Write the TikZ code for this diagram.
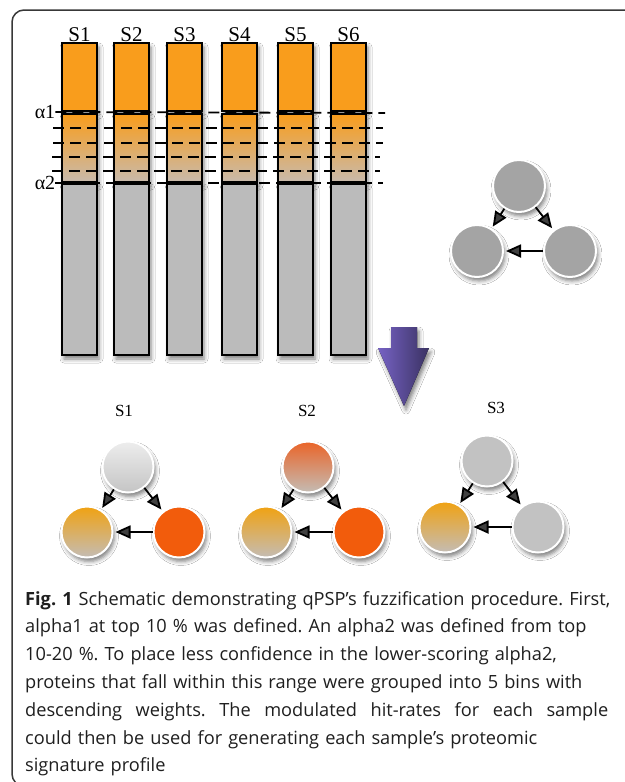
\documentclass[tikz,border=0pt]{standalone}
\usepackage{fontspec}
\newfontfamily\labface{Liberation Serif}
\newfontfamily\capface{Open Sans}
\usetikzlibrary{arrows.meta,shadows.blur}

\definecolor{barorange}{RGB}{249,157,28}
\definecolor{barfade}{RGB}{200,186,172}
\definecolor{bargrey}{RGB}{187,187,187}
\definecolor{netgrey}{RGB}{164,164,164}
\definecolor{lightgrey}{RGB}{194,194,194}
\definecolor{paleorange}{RGB}{240,162,18}
\definecolor{fadegrey}{RGB}{196,188,180}
\definecolor{deeporange}{RGB}{242,92,12}
\definecolor{redorange}{RGB}{234,100,40}
\definecolor{arrowlight}{RGB}{118,98,196}
\definecolor{arrowdark}{RGB}{58,50,98}

\tikzset{
	softshadow/.style={blur shadow={shadow xshift=2pt,shadow yshift=-4pt,shadow blur radius=4pt,shadow opacity=50}},
	bar/.style={draw=black,line width=1.5pt,softshadow},
	cut/.style={line width=1.8pt,dash pattern=on 11pt off 6pt},
	bubble/.style={circle,draw=white,line width=2pt,minimum size=51pt,inner sep=0pt,softshadow},
	arr/.style={line width=1.8pt,-{Triangle[length=15pt,width=13pt]},shorten >=2pt}
}

\begin{document}
\begin{tikzpicture}[x=1pt,y=-1pt]
			%%%%% START %%%%%
			\useasboundingbox (0,0) rectangle (624,782);
			\fill[white] (0,0) rectangle (624,782);
			
			\draw[line width=1.5pt,color=black!78,rounded corners=12pt] (12,10) rectangle (650,786);
			
			% bars
			\foreach \x/\s in {62/S1,114/S2,167/S3,222/S4,278/S5,331/S6}{
				\draw[bar,fill=barorange] (\x,43) rectangle ++(35,68);
				\draw[bar,top color=barorange,bottom color=barfade] (\x,114) rectangle ++(35,68);
				\draw[bar,fill=bargrey] (\x,184) rectangle ++(35,171);
				\node[font=\labface\fontsize{21}{21}\selectfont,inner sep=0pt] (lab\s) at (\x+17.5,35) {\s};
			}
			
			\node[font=\labface\fontsize{20}{20}\selectfont,inner sep=0pt] (a1) at (45,112) {α1};
			\node[font=\labface\fontsize{20}{20}\selectfont,inner sep=0pt] (a2) at (45,183) {α2};
			\draw[cut] (a1.east) -- (385,113);
			\foreach \y/\a/\b in {128/53/383,143/53/383,157/52/380,171/52/380}
				\draw[cut] (\a,\y) -- (\b,\y);
			\draw[cut] (a2.east) -- (383,183);
			
			% network
			\node[bubble,fill=netgrey,minimum size=52pt] (nt) at (519,186) {};
			\node[bubble,fill=netgrey,minimum size=52pt] (nl) at (477,251) {};
			\node[bubble,fill=netgrey,minimum size=52pt] (nr) at (570,251) {};
			\draw[arr] (nt) -- (nl);
			\draw[arr] (nt) -- (nr);
			\draw[arr] (nr) -- (nl);
			
			% arrow
			\fill[left color=arrowlight,right color=arrowdark,softshadow] (391,327) -- (417,327) -- (417,348) -- (429,348) -- (404,406) -- (378,348) -- (391,348) -- cycle;
			
			% S1
			\node[font=\labface\fontsize{17}{17}\selectfont,inner sep=0pt] (s1) at (124,411) {S1};
			\node[bubble,top color=black!7,bottom color=black!23] (at) at (128,467) {};
			\node[bubble,top color=paleorange,bottom color=fadegrey] (al) at (87,532) {};
			\node[bubble,fill=deeporange] (ar) at (179,532) {};
			\draw[arr] (at) -- (al);
			\draw[arr] (at) -- (ar);
			\draw[arr] (ar) -- (al);
			
			% S2
			\node[font=\labface\fontsize{17}{17}\selectfont,inner sep=0pt] (s2) at (307,411) {S2};
			\node[bubble,top color=redorange,bottom color=fadegrey] (bt) at (308,467) {};
			\node[bubble,top color=paleorange,bottom color=fadegrey] (bl) at (266,532) {};
			\node[bubble,fill=deeporange] (br) at (359,532) {};
			\draw[arr] (bt) -- (bl);
			\draw[arr] (bt) -- (br);
			\draw[arr] (br) -- (bl);
			
			% S3
			\node[font=\labface\fontsize{17}{17}\selectfont,inner sep=0pt] (s3) at (496,408) {S3};
			\node[bubble,fill=lightgrey] (ct) at (487,461) {};
			\node[bubble,top color=paleorange,bottom color=fadegrey] (cl) at (445,527) {};
			\node[bubble,fill=lightgrey] (cr) at (538,527) {};
			\draw[arr] (ct) -- (cl);
			\draw[arr] (ct) -- (cr);
			\draw[arr] (cr) -- (cl);
			
			% caption
			\node[anchor=north west,inner sep=0pt,text width=600pt,align=left,text=black!88,
				font=\capface\fontsize{18.2}{27.8}\selectfont\frenchspacing] (cap) at (25,591) {\textbf{Fig. 1} Schematic demonstrating qPSP’s fuzzification procedure. First,\\
alpha1 at top 10 \% was defined. An alpha2 was defined from top\\
10-20 \%. To place less confidence in the lower-scoring alpha2,\\
proteins that fall within this range were grouped into 5 bins with\\
\leavevmode\hbox to 583pt{descending\hfill weights.\hfill The\hfill modulated\hfill hit-rates\hfill for\hfill each\hfill sample}\\
could then be used for generating each sample’s proteomic\\
signature profile};
			
			%%%%% END %%%%%
\end{tikzpicture}
\end{document}
